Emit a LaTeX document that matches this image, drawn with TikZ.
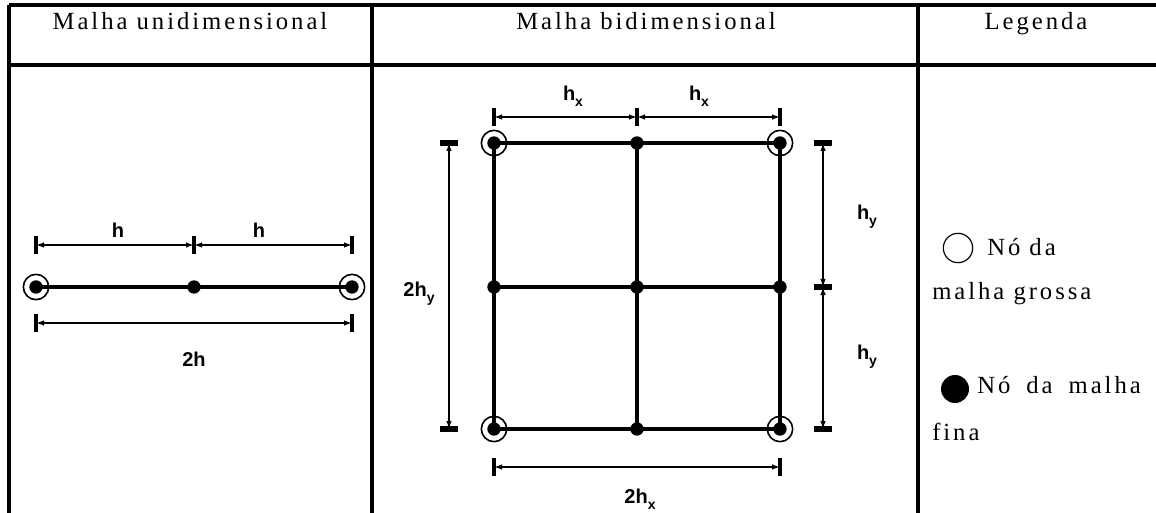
\documentclass[tikz,border=0pt]{standalone}
\usepackage{fontspec}
\setmainfont{Liberation Serif}
\newfontfamily\espacada[LetterSpace=12]{Liberation Serif}
\newfontfamily\arialfonte{Liberation Sans}
\usetikzlibrary{arrows.meta}
\newcommand\ind[1]{\raisebox{-0.6ex}{\fontsize{10.5pt}{10.5pt}\selectfont #1}}

\tikzset{
  borda/.style={line width=2.6pt},
  malha/.style={line width=2.8pt},
  cota/.style={line width=1.1pt,{Latex[length=6pt,width=4.2pt]}-{Latex[length=6pt,width=4.2pt]}},
  marca/.style={line width=2.4pt},
  barra/.style={line width=4.5pt},
  rotulo/.style={font=\arialfonte\bfseries\fontsize{15pt}{17pt}\selectfont},
  texto/.style={font=\espacada\fontsize{18.5pt}{21pt}\selectfont,inner sep=0pt},
}

\begin{document}
\begin{tikzpicture}[x=0.75pt,y=-0.75pt]
  \useasboundingbox (0,0) rectangle (1156,513);
  % tabela
  \draw[borda] (9,5) -- (1156,5);
  \draw[borda] (9,65) -- (1156,65);
  \foreach \x in {9,372,918}
    \draw[borda] (\x,5) -- (\x,513);
  \node[texto,anchor=base] (tit1) at (190,30) {Malha unidimensional};
  \node[texto,anchor=base] (tit2) at (646,30) {Malha bidimensional};
  \node[texto,anchor=base] (tit3) at (1036,30) {Legenda};

  % malha unidimensional
  \coordinate (u1) at (36,287);
  \coordinate (u2) at (194,287);
  \coordinate (u3) at (352,287);
  \draw[malha] (u1) -- (u3);
  \foreach \p in {u1,u2,u3}
    \fill (\p) circle[radius=5pt];
  \foreach \p in {u1,u3}
    \draw[line width=1.2pt] (\p) circle[radius=9.5pt];
  % cotas h e 2h
  \coordinate (c1) at (36,245);
  \coordinate (c2) at (194,245);
  \coordinate (c3) at (352,245);
  \coordinate (c4) at (36,323);
  \coordinate (c5) at (352,323);
  \foreach \p in {c1,c2,c3,c4,c5}
    \draw[marca] ([yshift=6.5pt]\p) -- ([yshift=-6.5pt]\p);
  \draw[cota] (c1) -- (c2);
  \draw[cota] (c2) -- (c3);
  \draw[cota] (c4) -- (c5);
  \node[rotulo] (lh1) at (118,230) {h};
  \node[rotulo] (lh2) at (259,230) {h};
  \node[rotulo] (l2h) at (194,359) {2h};

  % malha bidimensional
  \foreach \i/\x in {1/494,2/637,3/780}
    \foreach \j/\y in {1/143,2/287,3/429}
      \coordinate (m\i\j) at (\x,\y);
  \foreach \k in {1,2,3} {
    \draw[malha] (m1\k) -- (m3\k);
    \draw[malha] (m\k1) -- (m\k3);
  }
  \foreach \i in {1,2,3}
    \foreach \j in {1,2,3}
      \fill (m\i\j) circle[radius=5pt];
  \foreach \p in {m11,m31,m13,m33}
    \draw[line width=1.2pt] (\p) circle[radius=9.5pt];
  % cotas horizontais
  \coordinate (t1) at (494,117);
  \coordinate (t2) at (637,117);
  \coordinate (t3) at (780,117);
  \coordinate (b1) at (494,467);
  \coordinate (b3) at (780,467);
  \foreach \p in {t1,t2,t3,b1,b3}
    \draw[marca] ([yshift=6.5pt]\p) -- ([yshift=-6.5pt]\p);
  \draw[cota] (t1) -- (t2);
  \draw[cota] (t2) -- (t3);
  \draw[cota] (b1) -- (b3);
  \node[rotulo] (lhx1) at (573,96) {h\ind{x}};
  \node[rotulo] (lhx2) at (699,96) {h\ind{x}};
  \node[rotulo] (l2hx) at (640,499) {2h\ind{x}};
  % cotas verticais
  \coordinate (e1) at (449,143);
  \coordinate (e3) at (449,429);
  \coordinate (d1) at (823,143);
  \coordinate (d2) at (823,287);
  \coordinate (d3) at (823,429);
  \foreach \p in {e1,e3,d1,d2,d3}
    \draw[barra] ([xshift=-6.75pt]\p) -- ([xshift=6.75pt]\p);
  \draw[cota] (e1) -- (e3);
  \draw[cota] (d1) -- (d2);
  \draw[cota] (d2) -- (d3);
  \node[rotulo] (l2hy) at (419,294) {2h\ind{y}};
  \node[rotulo] (lhy1) at (867,217) {h\ind{y}};
  \node[rotulo] (lhy2) at (867,357) {h\ind{y}};

  % legenda
  \node[draw,circle,line width=0.9pt,minimum size=22pt,inner sep=0pt] (sgrossa) at (958,248) {};
  \node[texto,anchor=base west] (tgrossa1) at (987,256) {Nó da};
  \node[texto,anchor=base west] (tgrossa2) at (932,300) {malha grossa};
  \node[fill,circle,minimum size=21pt,inner sep=0pt] (sfina) at (955,389) {};
  \node[texto,anchor=base west] (tfina1) at (977,393) {Nó\hspace{12pt}da\hspace{12pt}malha};
  \node[texto,anchor=base west] (tfina2) at (932,440) {fina};
\end{tikzpicture}
\end{document}
